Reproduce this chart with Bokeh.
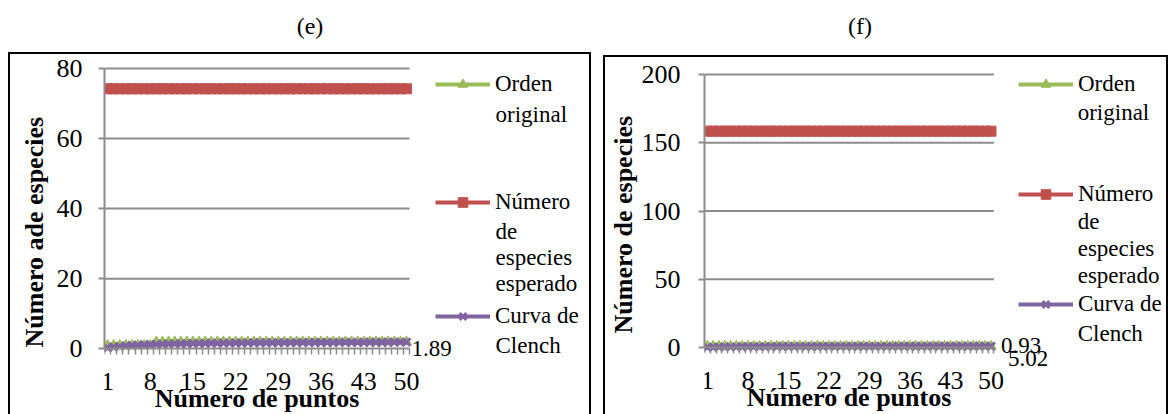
from bokeh.plotting import figure
from bokeh.models import Div, Legend, LegendItem, Label, FixedTicker, Range1d, Title
from bokeh.layouts import row, column
from bokeh.embed import file_html
from bokeh.resources import INLINE

# ---------------- data ----------------
puntos = list(range(1, 51))
x_tick_labels = puntos[::7]          # 1, 8, 15, 22, 29, 36, 43, 50
x_boundaries = [v - 0.5 for v in puntos] + [50.5]

series_names = ["Orden original", "Número de especies esperado", "Curva de Clench"]

# panel (e)
e_orden = [1, 1, 1, 1, 1, 1, 1, 1, 2, 2,
           2, 2, 2, 2, 2, 2, 2, 2, 2, 2,
           2, 2, 2, 2, 2, 2, 2, 2, 2, 2,
           2, 2, 2, 2, 2, 2, 2, 2, 2, 2,
           2, 2, 2, 2, 2, 2, 2, 2, 2, 2]
e_esperado = [74.2, 74.2, 74.2, 74.2, 74.2, 74.2, 74.2, 74.2, 74.2, 74.2,
              74.2, 74.2, 74.2, 74.2, 74.2, 74.2, 74.2, 74.2, 74.2, 74.2,
              74.2, 74.2, 74.2, 74.2, 74.2, 74.2, 74.2, 74.2, 74.2, 74.2,
              74.2, 74.2, 74.2, 74.2, 74.2, 74.2, 74.2, 74.2, 74.2, 74.2,
              74.2, 74.2, 74.2, 74.2, 74.2, 74.2, 74.2, 74.2, 74.2, 74.2]
e_clench = [0.28, 0.50, 0.68, 0.82, 0.94, 1.04, 1.12, 1.19, 1.25, 1.30,
            1.35, 1.39, 1.43, 1.46, 1.49, 1.52, 1.54, 1.56, 1.58, 1.60,
            1.62, 1.63, 1.65, 1.66, 1.67, 1.69, 1.70, 1.71, 1.72, 1.73,
            1.74, 1.75, 1.76, 1.76, 1.77, 1.78, 1.79, 1.79, 1.80, 1.81,
            1.81, 1.82, 1.83, 1.83, 1.84, 1.85, 1.86, 1.87, 1.88, 1.89]
e_y_ticks = [0, 20, 40, 60, 80]
e_labels = ["1.89"]

# panel (f)
f_orden = [1, 1, 1, 1, 1, 1, 1, 1, 1, 1,
           1, 1, 1, 1, 1, 1, 1, 1, 1, 1,
           1, 1, 1, 1, 1, 1, 1, 1, 1, 1,
           1, 1, 1, 1, 1, 1, 1, 1, 1, 1,
           1, 1, 1, 1, 1, 1, 1, 1, 1, 1]
f_esperado = [158.5, 158.5, 158.5, 158.5, 158.5, 158.5, 158.5, 158.5, 158.5, 158.5,
              158.5, 158.5, 158.5, 158.5, 158.5, 158.5, 158.5, 158.5, 158.5, 158.5,
              158.5, 158.5, 158.5, 158.5, 158.5, 158.5, 158.5, 158.5, 158.5, 158.5,
              158.5, 158.5, 158.5, 158.5, 158.5, 158.5, 158.5, 158.5, 158.5, 158.5,
              158.5, 158.5, 158.5, 158.5, 158.5, 158.5, 158.5, 158.5, 158.5, 158.5]
f_clench = [0.12, 0.22, 0.30, 0.37, 0.43, 0.48, 0.52, 0.56, 0.59, 0.62,
            0.64, 0.66, 0.68, 0.70, 0.72, 0.73, 0.74, 0.76, 0.77, 0.78,
            0.79, 0.80, 0.80, 0.81, 0.82, 0.83, 0.83, 0.84, 0.84, 0.85,
            0.85, 0.86, 0.86, 0.87, 0.87, 0.88, 0.88, 0.88, 0.89, 0.89,
            0.90, 0.90, 0.90, 0.91, 0.91, 0.91, 0.92, 0.92, 0.92, 0.93]
f_y_ticks = [0, 50, 100, 150, 200]
f_labels = ["0.93", "5.02"]

# ---------------- style ----------------
SERIF = "Liberation Serif"
GREEN, RED, PURPLE = "#9BBB59", "#C0504D", "#8064A2"
GRID = "#8C8C8C"
legend_lines = [["Orden", "original"],
                ["Número", "de", "especies", "esperado"],
                ["Curva de", "Clench"]]


def make_panel(orden, esperado, clench, y_ticks, y_title, geo):
    # geo: page pixel layout of this panel
    x0, y0, W, H = geo["canvas"]
    f_left, f_right, f_top, f_bottom = geo["frame"]
    d_left, d_right, d_top, d_zero = geo["data"]      # px of x=0.5, x=50.5, y=top tick, y=0
    kx = (d_right - d_left) / 50.0
    ky = (d_zero - d_top) / float(y_ticks[-1])

    def to_x(px):
        return 0.5 + (px - d_left) / kx

    def to_y(py):
        return (d_zero - py) / ky

    p = figure(width=W, height=H, output_backend="svg",
               toolbar_location=None, tools="",
               x_range=Range1d(to_x(f_left), to_x(f_right)),
               y_range=Range1d(to_y(f_bottom), to_y(f_top)),
               min_border_left=f_left - x0, min_border_right=x0 + W - f_right,
               min_border_top=f_top - y0, min_border_bottom=y0 + H - f_bottom,
               background_fill_color="white", border_fill_color="white",
               outline_line_color=None)
    p.styles = {"outline": "2px solid black"}
    p.xgrid.visible = False
    p.ygrid.visible = False

    # horizontal gridlines limited to the plotting area
    gl = y_ticks[1:]
    p.segment(x0=[0.5] * len(gl), x1=[50.5] * len(gl), y0=gl, y1=gl,
              line_color=GRID, line_width=2)

    # series
    lg = p.line(puntos, orden, line_color=GREEN, line_width=4)
    sg = p.scatter(puntos, orden, marker="triangle", size=10,
                   fill_color=GREEN, line_color=GREEN)
    lr = p.line(puntos, esperado, line_color=RED, line_width=4)
    sr = p.scatter(puntos, esperado, marker="square", size=10,
                   fill_color=RED, line_color=RED)
    lp = p.line(puntos, clench, line_color=PURPLE, line_width=4)
    sp = p.scatter(puntos, clench, marker="x", size=11,
                   line_color=PURPLE, line_width=3)

    # axes
    xa = p.xaxis[0]
    xa.fixed_location = 0
    xa.bounds = (0.5, 50.5)
    xa.ticker = FixedTicker(ticks=x_tick_labels, minor_ticks=x_boundaries)
    xa.axis_line_color = GRID
    xa.axis_line_width = 2
    xa.major_tick_line_color = None
    xa.minor_tick_line_color = GRID
    xa.minor_tick_line_width = 1.5
    xa.minor_tick_in = 0
    xa.minor_tick_out = 6
    xa.major_tick_out = 6
    xa.major_tick_in = 0
    xa.major_label_standoff = 18
    xa.axis_label = "Número de puntos"
    xa.axis_label_standoff = -9
    xa.axis_label_text_font = SERIF
    xa.axis_label_text_font_size = "26px"
    xa.axis_label_text_font_style = "bold"
    xa.axis_label_text_color = "black"

    ya = p.yaxis[0]
    ya.bounds = (0, y_ticks[-1])
    ya.ticker = FixedTicker(ticks=y_ticks)
    ya.axis_line_color = GRID
    ya.axis_line_width = 2
    ya.major_tick_line_color = GRID
    ya.major_tick_line_width = 2
    ya.major_tick_in = 0
    ya.major_tick_out = 6
    ya.minor_tick_line_color = None
    ya.major_label_standoff = geo["ytick_standoff"]

    for ax in (xa, ya):
        ax.major_label_text_font = SERIF
        ax.major_label_text_font_size = "26px"
        ax.major_label_text_color = "black"

    # y title as a side title so it can sit off-centre like the original
    p.add_layout(Title(text=y_title, align="left", offset=geo["ytitle_offset"],
                       standoff=geo["ytitle_standoff"], text_font=SERIF,
                       text_font_size="26px", text_font_style="bold",
                       text_color="black"), "left")

    # legend: one entry per series, placed at its own height
    item_h = 24
    glyph_w = 55
    standoff = 5
    g_left = geo["legend_left"]
    renderers = [[lg, sg], [lr, sr], [lp, sp]]
    for i, lines in enumerate(legend_lines):
        c = geo["legend_centers"][i][0]
        leg = Legend(items=[LegendItem(label=lines[0], renderers=renderers[i])],
                     location=(g_left - f_left, f_bottom - (c + item_h / 2)),
                     padding=0, margin=0, spacing=0,
                     glyph_width=glyph_w, glyph_height=item_h, label_height=item_h,
                     label_standoff=standoff, label_text_font=SERIF,
                     label_text_font_size="23px", label_text_color="black",
                     background_fill_alpha=0, border_line_color=None)
        p.add_layout(leg)
        for t, cy in zip(lines[1:], geo["legend_centers"][i][1:]):
            p.add_layout(Label(x=to_x(g_left + glyph_w + standoff), y=to_y(cy),
                               text=t, text_font=SERIF, text_font_size="23px",
                               text_color="black", text_baseline="middle",
                               text_align="left"))

    # data labels at the last point
    for t, (dx, dy) in zip(geo["labels"], geo["label_offsets"]):
        p.add_layout(Label(x=puntos[-1], y=clench[-1], text=t,
                           x_offset=dx, y_offset=dy,
                           text_font=SERIF, text_font_size="23px",
                           text_color="black", text_baseline="middle",
                           text_align="left"))
    return p


geo_e = dict(canvas=(10, 54, 579, 456), frame=(104, 589, 60, 430),
             data=(104, 409, 67, 348), ytick_standoff=16,
             ytitle_offset=83, ytitle_standoff=10,
             legend_left=435,
             legend_centers=[[85, 113], [203, 230, 257, 283], [317, 345]],
             labels=e_labels, label_offsets=[(5, -6)])
geo_f = dict(canvas=(605, 57, 561, 453), frame=(703, 1166, 64, 430),
             data=(703, 993, 74, 347), ytick_standoff=18,
             ytitle_offset=97, ytitle_standoff=2,
             legend_left=1017,
             legend_centers=[[85, 112], [195, 221, 248, 275], [305, 333]],
             labels=f_labels, label_offsets=[(10, 1), (17, -12)])

p1 = make_panel(e_orden, e_esperado, e_clench, e_y_ticks, "Número ade especies", geo_e)
p1.margin = (0, 0, 0, 10)
p2 = make_panel(f_orden, f_esperado, f_clench, f_y_ticks, "Número de especies", geo_f)
p2.margin = (3, 0, 0, 16)

header = Div(text=(
    '<div style="position:relative;width:1170px;height:54px;'
    "font-family:'Liberation Serif';font-size:24px;color:black;\">"
    '<div style="position:absolute;left:260px;top:9px;width:100px;text-align:center;">(e)</div>'
    '<div style="position:absolute;left:810px;top:9px;width:100px;text-align:center;">(f)</div>'
    '</div>'), width=1170, height=54, margin=0)

layout = column(header, row(p1, p2, margin=0), margin=0)
open("out.html", "w").write(file_html(layout, INLINE))
